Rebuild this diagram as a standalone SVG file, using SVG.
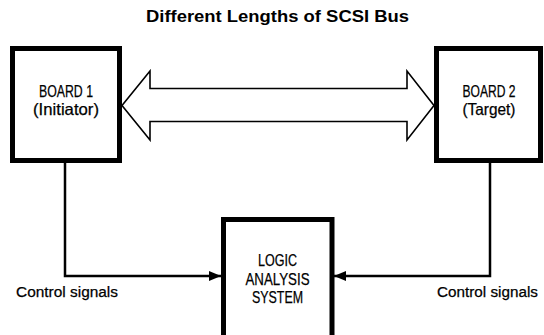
<svg xmlns="http://www.w3.org/2000/svg" width="544" height="335" viewBox="0 0 544 335">
  <defs>
    <marker id="ah" viewBox="0 0 12 10" refX="12" refY="5" markerWidth="12" markerHeight="10" markerUnits="userSpaceOnUse" orient="auto">
      <path d="M0,0 L12,5 L0,10 Z" fill="#000"/>
    </marker>
    <style>
      .box { fill: #fff; stroke: #000; stroke-width: 5; }
      .lbl { font-family: "Liberation Sans", Arial, sans-serif; font-size: 16.5px; fill: #000; stroke: #000; stroke-width: 0.25; text-anchor: middle; }
      .side { font-family: "Liberation Sans", Arial, sans-serif; font-size: 15.5px; fill: #000; stroke: #000; stroke-width: 0.25; }
      .title { font-family: "Liberation Sans", Arial, sans-serif; font-size: 17px; font-weight: bold; fill: #000; }
      .wire { fill: none; stroke: #000; stroke-width: 2.5; }
      .bus { fill: #fff; stroke: #000; stroke-width: 1.6; stroke-linejoin: miter; }
    </style>
  </defs>
  <rect width="544" height="335" fill="#fff"/>
  <text class="title" x="146" y="22" textLength="263" lengthAdjust="spacingAndGlyphs">Different Lengths of SCSI Bus</text>

  <g id="connectors">
    <path class="bus" d="M122,105.5 L150,71 L150,88.5 L407,88.5 L407,71 L434,105.5 L407,140 L407,121.5 L150,121.5 L150,140 Z"/>
    <path class="wire" d="M65,161 L65,276 L221,276" marker-end="url(#ah)"/>
    <path class="wire" d="M490,161 L490,276 L334,276" marker-end="url(#ah)"/>
    <text class="side" x="16" y="297" textLength="102" lengthAdjust="spacingAndGlyphs">Control signals</text>
    <text class="side" x="437" y="297" textLength="101" lengthAdjust="spacingAndGlyphs">Control signals</text>
  </g>

  <g id="board1">
    <rect class="box" x="12.5" y="48.5" width="107" height="112"/>
    <text class="lbl" x="66" y="97" textLength="54" lengthAdjust="spacingAndGlyphs">BOARD 1</text>
    <text class="lbl" x="66" y="115" textLength="66" lengthAdjust="spacingAndGlyphs">(Initiator)</text>
  </g>

  <g id="board2">
    <rect class="box" x="436.5" y="48.5" width="104" height="112"/>
    <text class="lbl" x="489" y="97" textLength="53" lengthAdjust="spacingAndGlyphs">BOARD 2</text>
    <text class="lbl" x="489" y="115" textLength="53" lengthAdjust="spacingAndGlyphs">(Target)</text>
  </g>

  <g id="logic">
    <rect class="box" x="223.5" y="219.5" width="108.5" height="125"/>
    <text class="lbl" x="277.5" y="266" textLength="39" lengthAdjust="spacingAndGlyphs">LOGIC</text>
    <text class="lbl" x="277.5" y="285" textLength="64" lengthAdjust="spacingAndGlyphs">ANALYSIS</text>
    <text class="lbl" x="277.5" y="303" textLength="51" lengthAdjust="spacingAndGlyphs">SYSTEM</text>
  </g>
</svg>
